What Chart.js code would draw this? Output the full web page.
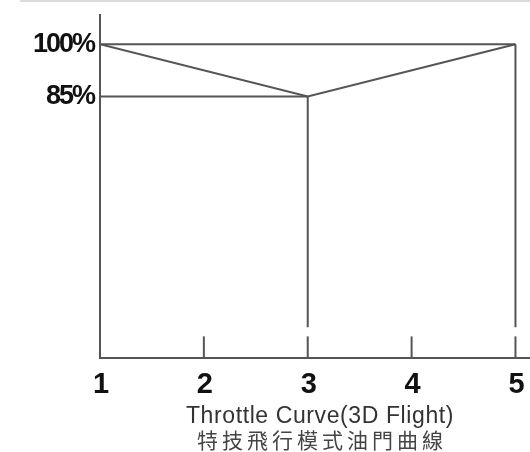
<!DOCTYPE html>
<html>
<head>
<meta charset="utf-8">
<script src="https://cdn.jsdelivr.net/npm/chart.js@4.4.0/dist/chart.umd.min.js"></script>
<style>
  html, body { margin: 0; padding: 0; background: #fff; }
  #wrap { position: relative; width: 530px; height: 452px; }
  #topRule { position: absolute; left: 20px; top: 0; width: 510px; height: 2px; background: #dcdcdc; }
</style>
</head>
<body>
<div id="wrap">
  <div id="topRule"></div>
  <canvas id="grafico-curva" width="530" height="452"></canvas>
</div>
<script>
// puntos de la curva
var curveX = [1, 3, 5];
var curveY = [100, 85, 100];
// etiquetas
var xTicks = [1, 2, 3, 4, 5];
var yTicks = [85, 100];
var yTickLabels = ['85%', '100%'];
var titleEn = 'Throttle Curve(3D Flight)';
var titleZh = '特技飛行模式油門曲線';
// lineas guia
var guideLevels = [100, 85];      // horizontales desde x=1
var guideEnds = [5, 3];
var dropX = [3, 5];               // verticales hasta abajo
var dropTop = [85, 100];
var dropBottom = 18.8;
var tickStemX = [2, 3, 4, 5];
var tickStemTop = 16.2;
var yMin = 10, yMax = 108.4;

var gris = '#555555';

function seg(pts) {
    return {
        data: pts,
        borderColor: gris,
        borderWidth: 2,
        pointRadius: 0,
        fill: false,
        tension: 0
    };
}

var datasets = [];
datasets.push(seg(curveX.map(function (x, i) { return { x: x, y: curveY[i] }; })));
for (var i = 0; i < guideLevels.length; i++) {
    datasets.push(seg([{ x: 1, y: guideLevels[i] }, { x: guideEnds[i], y: guideLevels[i] }]));
}
for (var j = 0; j < dropX.length; j++) {
    datasets.push(seg([{ x: dropX[j], y: dropTop[j] }, { x: dropX[j], y: dropBottom }]));
}
for (var k = 0; k < tickStemX.length; k++) {
    datasets.push(seg([{ x: tickStemX[k], y: yMin }, { x: tickStemX[k], y: tickStemTop }]));
}

// letras apretadas en los ticks, titulos espaciados debajo del eje
var textoPlugin = {
    id: 'textoPlugin',
    beforeDraw: function (chart) {
        chart.ctx.letterSpacing = '-2px';
    },
    beforeDatasetsDraw: function (chart) {
        chart.ctx.letterSpacing = '0px';
    },
    afterDraw: function (chart) {
        var c = chart.ctx;
        var area = chart.chartArea;
        var cx = (area.left + area.right) / 2 + 5;
        c.save();
        c.textAlign = 'center';
        c.textBaseline = 'alphabetic';
        c.fillStyle = '#333';
        c.letterSpacing = '0.6px';
        c.font = '23px "Liberation Sans", Arial, sans-serif';
        c.fillText(titleEn, cx, 423);
        c.fillStyle = '#444';
        c.letterSpacing = '4px';
        c.font = '21px "Noto Sans CJK TC", sans-serif';
        c.fillText(titleZh, cx + 2, 448);
        c.restore();
    }
};

const ctx = document.getElementById('grafico-curva');
var myChart = new Chart(ctx, {
    type: 'line',
    data: { datasets: datasets },
    plugins: [textoPlugin],
    options: {
        responsive: false,
        animation: false,
        layout: { padding: { left: 0, right: 0, top: 15, bottom: 0 } },
        plugins: {
            legend: { display: false },
            tooltip: { enabled: false }
        },
        scales: {
            x: {
                type: 'linear',
                min: 1,
                max: 5.14,
                grid: { display: false, drawTicks: false },
                border: { display: true, color: gris, width: 2 },
                afterBuildTicks: function (scale) {
                    scale.ticks = xTicks.map(function (v) { return { value: v }; });
                },
                afterFit: function (scale) {
                    scale.height = 94;
                    scale.paddingLeft = 0;
                    scale.paddingRight = 0;
                },
                ticks: {
                    color: '#111',
                    padding: 10,
                    maxRotation: 0,
                    font: { family: '"Liberation Sans", Arial, sans-serif', size: 29, weight: 'bold' }
                }
            },
            y: {
                type: 'linear',
                min: yMin,
                max: yMax,
                grid: { display: false, drawTicks: false },
                border: { display: true, color: gris, width: 2 },
                afterBuildTicks: function (scale) {
                    scale.ticks = yTicks.map(function (v) { return { value: v }; });
                },
                afterFit: function (scale) {
                    scale.width = 100;
                    scale.paddingTop = 0;
                    scale.paddingBottom = 0;
                },
                ticks: {
                    color: '#111',
                    padding: 6,
                    font: { family: '"Liberation Sans", Arial, sans-serif', size: 27, weight: 'bold' },
                    callback: function (v) {
                        var idx = yTicks.indexOf(v);
                        return idx >= 0 ? yTickLabels[idx] : '';
                    }
                }
            }
        }
    }
});
</script>
</body>
</html>
